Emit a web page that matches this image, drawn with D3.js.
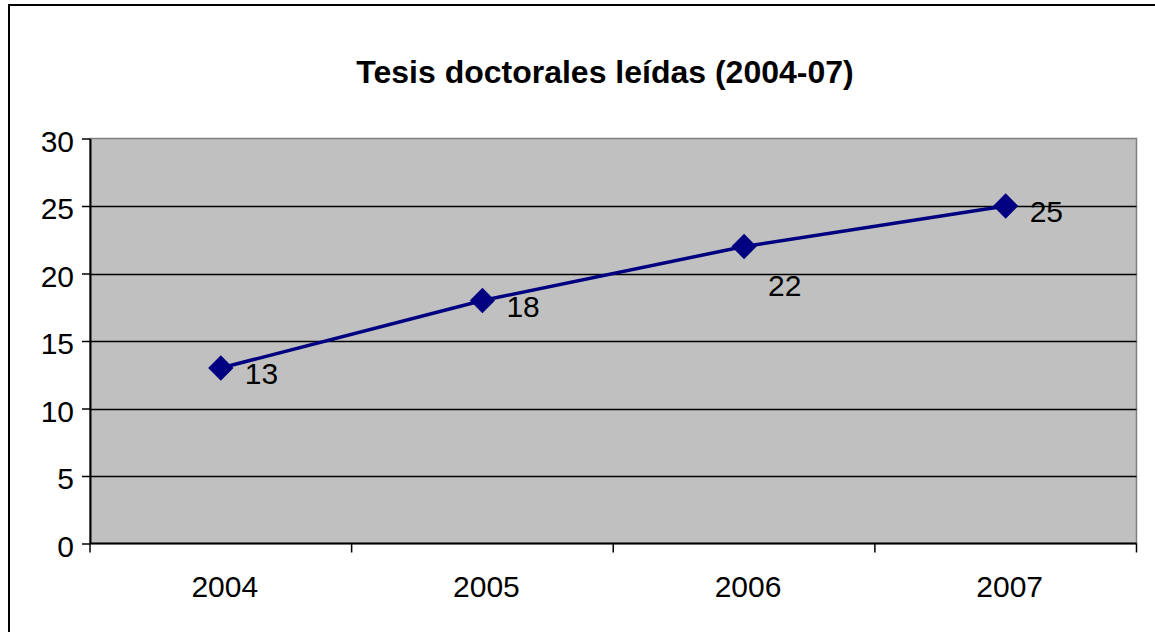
<!DOCTYPE html>
<html>
<head>
<meta charset="utf-8">
<script src="https://cdn.jsdelivr.net/npm/d3@7"></script>
<style>
  body { margin: 0; background: #fff; }
  svg { display: block; font-family: Arial, "Liberation Sans", sans-serif; }
</style>
</head>
<body>
<div id="chart"></div>
<script>
const years = ["2004", "2005", "2006", "2007"];
const tesis = [13, 18, 22, 25];
const yTicks = [0, 5, 10, 15, 20, 25, 30];
const title = "Tesis doctorales leídas (2004-07)";

const width = 1155;
const height = 632;
const margin = { left: 90, right: 18.5, top: 138.5, bottom: 88.5 };

const svg = d3.select("#chart")
              .append("svg")
              .attr("width", width)
              .attr("height", height);

// outer chart border (runs off the right/bottom edge)
svg.append("rect")
   .attr("x", 9).attr("y", 5)
   .attr("width", width + 20).attr("height", height + 20)
   .attr("fill", "none").attr("stroke", "#000").attr("stroke-width", 2);

svg.append("text")
   .attr("x", 605).attr("y", 83)
   .attr("text-anchor", "middle")
   .attr("font-weight", "bold")
   .attr("font-size", 32)
   .text(title);

const x = d3.scaleBand().domain(years).range([margin.left, width - margin.right]);
const y = d3.scaleLinear().domain([0, 30]).range([height - margin.bottom, margin.top]);

// plot area
svg.append("rect")
   .attr("x", x.range()[0]).attr("y", y(30))
   .attr("width", x.range()[1] - x.range()[0]).attr("height", y(0) - y(30))
   .attr("fill", "#c0c0c0").attr("stroke", "#808080").attr("stroke-width", 1.5);

// gridlines
svg.append("g")
   .selectAll("line")
   .data(yTicks.filter(d => d > 0 && d < 30))
   .enter().append("line")
   .attr("x1", x.range()[0]).attr("x2", x.range()[1])
   .attr("y1", d => Math.round(y(d)) + 0.5).attr("y2", d => Math.round(y(d)) + 0.5)
   .attr("stroke", "#000").attr("stroke-width", 1.5);

// y axis
const yAxis = svg.append("g")
   .attr("transform", `translate(${margin.left},0)`)
   .call(d3.axisLeft(y).tickValues(yTicks).tickSize(8).tickPadding(8).tickSizeOuter(0));
yAxis.select(".domain").attr("stroke", "#000").attr("stroke-width", 2);
yAxis.selectAll(".tick line").attr("stroke", "#000").attr("stroke-width", 1.5);
yAxis.selectAll(".tick text").attr("font-size", 30).attr("fill", "#000")
     .attr("font-family", "Arial, 'Liberation Sans', sans-serif").attr("dy", "0.42em");

// x axis with ticks at category boundaries
const xAxis = svg.append("g").attr("transform", `translate(0,${y(0)})`);
xAxis.append("line")
     .attr("x1", x.range()[0]).attr("x2", x.range()[1])
     .attr("stroke", "#000").attr("stroke-width", 2);
const bounds = years.map(d => x(d)).concat([x.range()[1]]);
xAxis.selectAll("line.tk")
     .data(bounds)
     .enter().append("line").attr("class", "tk")
     .attr("x1", d => d).attr("x2", d => d)
     .attr("y1", 0).attr("y2", 9)
     .attr("stroke", "#000").attr("stroke-width", 1.5);
xAxis.selectAll("text")
     .data(years)
     .enter().append("text")
     .attr("x", d => x(d) + x.bandwidth() / 2 + 4)
     .attr("y", 53)
     .attr("text-anchor", "middle")
     .attr("font-size", 30)
     .text(d => d);

// series line
const cx = d => x(d) + x.bandwidth() / 2;
const line = d3.line().x((d, i) => cx(years[i])).y(d => y(d));
svg.append("path")
   .datum(tesis)
   .attr("d", line)
   .attr("fill", "none")
   .attr("stroke", "#000080")
   .attr("stroke-width", 3.5);

// diamond markers
svg.append("g")
   .selectAll("path")
   .data(tesis)
   .enter().append("path")
   .attr("d", d3.symbol().type(d3.symbolSquare).size(320))
   .attr("transform", (d, i) => `translate(${cx(years[i])},${y(d)}) rotate(45)`)
   .attr("fill", "#000080");

// data labels (the 2006 one sits lower, away from the line)
svg.append("g")
   .selectAll("text")
   .data(tesis)
   .enter().append("text")
   .attr("x", (d, i) => cx(years[i]) + 24)
   .attr("y", (d, i) => y(d) + (i === 2 ? 49 : 16))
   .attr("font-size", 30)
   .text(d => d);
</script>
</body>
</html>
